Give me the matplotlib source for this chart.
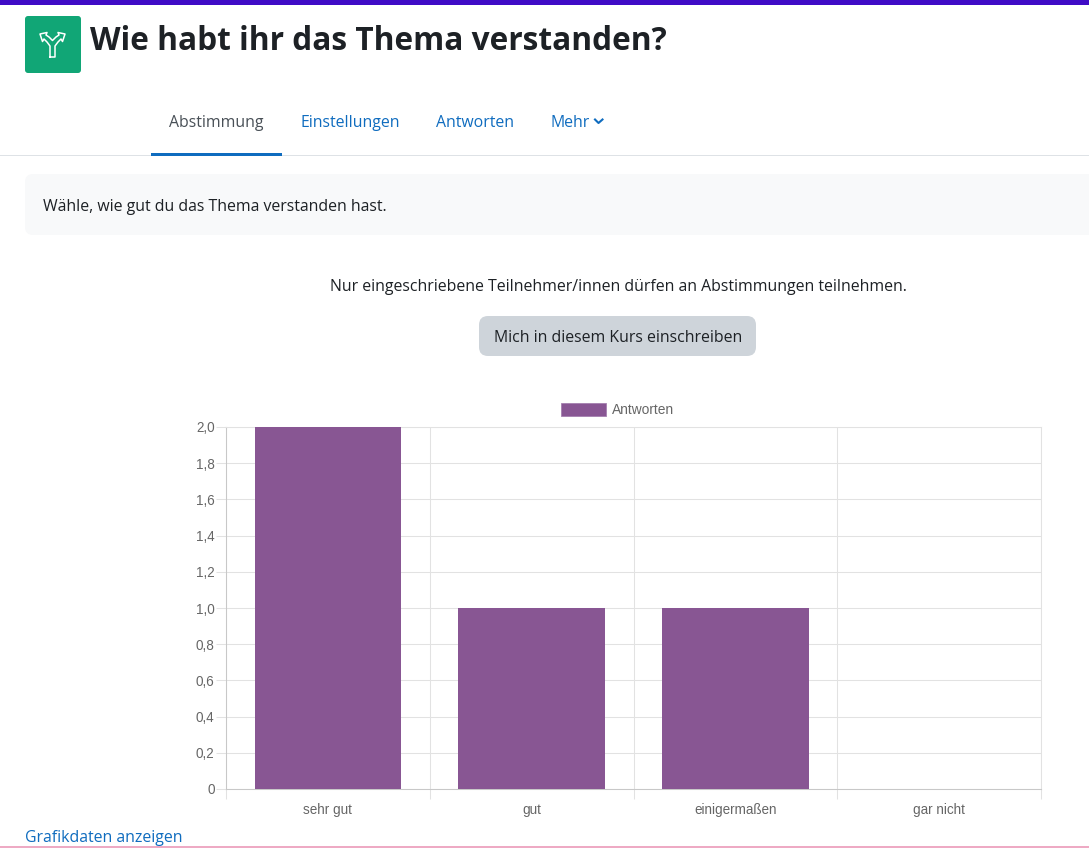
import matplotlib
matplotlib.use("Agg")
import matplotlib.pyplot as plt
from matplotlib.patches import FancyBboxPatch, Rectangle

categories = ["sehr gut", "gut", "einigermaßen", "gar nicht"]
answers = [2, 1, 1, 0]
y_ticks = [0, 0.2, 0.4, 0.6, 0.8, 1.0, 1.2, 1.4, 1.6, 1.8, 2.0]
y_labels = ["0", "0,2", "0,4", "0,6", "0,8", "1,0", "1,2", "1,4", "1,6", "1,8", "2,0"]
tabs = ["Abstimmung", "Einstellungen", "Antworten", "Mehr"]
tab_x = [169, 301, 436, 550]

W, H = 1089, 848
PAGE_FONT = "Open Sans"
CHART_FONT = "Liberation Sans"
BLUE = "#0f6cbf"
BAR = "#885693"
GRID = "#e2e2e2"

fig = plt.figure(figsize=(W / 100, H / 100), dpi=100, facecolor="white")

# page layer in pixel coordinates
page = fig.add_axes([0, 0, 1, 1])
page.set_xlim(0, W)
page.set_ylim(H, 0)
page.axis("off")

page.add_patch(Rectangle((0, 0), W, 5, color="#3f0bc6", lw=0))
page.add_patch(Rectangle((0, 846), W, 2, color="#eeaac4", lw=0))

# activity icon
page.add_patch(FancyBboxPatch((25, 16), 56, 57, boxstyle="round,pad=0,rounding_size=3",
                              fc="#11a676", ec="none"))
page.plot([50, 50, 47, 44, 42.5, 40, 47, 46, 49, 52.5, 56, 59, 58, 65, 62.5, 61, 58, 55, 55, 50],
          [57, 46, 42, 39, 41.5, 34, 32.5, 35, 37, 40.5, 37, 35, 32.5, 34, 41.5, 39, 42, 46, 57, 57],
          color="white", lw=1.1)

page.text(90, 50, "Wie habt ihr das Thema verstanden?", fontsize=22.8, fontweight="bold",
          family=PAGE_FONT, color="#1d2125", va="baseline", ha="left")

# tabs
for name, x in zip(tabs, tab_x):
    c = "#495057" if name == "Abstimmung" else BLUE
    page.text(x, 127, name, fontsize=11.4, family=PAGE_FONT, color=c, va="baseline", ha="left")
page.plot([595, 598.5, 602.5], [119.5, 123, 119.5], color=BLUE, lw=1.5)
page.add_patch(Rectangle((0, 155), W, 1, color="#dee2e6", lw=0))
page.add_patch(Rectangle((151, 153), 131, 3, color=BLUE, lw=0))

# intro box
page.add_patch(FancyBboxPatch((25, 174), W + 20, 61, boxstyle="round,pad=0,rounding_size=8",
                              fc="#f8f9fa", ec="none"))
page.text(43, 211, "Wähle, wie gut du das Thema verstanden hast.", fontsize=11.4,
          family=PAGE_FONT, color="#1d2125", va="baseline", ha="left")

page.text(618, 291, "Nur eingeschriebene Teilnehmer/innen dürfen an Abstimmungen teilnehmen.",
          fontsize=11.4, family=PAGE_FONT, color="#1d2125", va="baseline", ha="center")

# enrol button
page.add_patch(FancyBboxPatch((479, 316), 277, 40, boxstyle="round,pad=0,rounding_size=9",
                              fc="#ced4da", ec="none"))
page.text(618, 342, "Mich in diesem Kurs einschreiben", fontsize=11.4, family=PAGE_FONT,
          color="#1d2125", va="baseline", ha="center")

page.text(25, 842, "Grafikdaten anzeigen", fontsize=11.4, family=PAGE_FONT, color=BLUE,
          va="baseline", ha="left")

# chart
left, right, top, bottom = 226, 1041, 427, 789
ax = fig.add_axes([left / W, 1 - bottom / H, (right - left) / W, (bottom - top) / H])
ax.patch.set_alpha(0)
x = range(len(categories))
ax.bar(x, answers, width=0.72, color=BAR, zorder=3)
ax.set_xlim(-0.5, len(categories) - 0.5)
ax.set_ylim(0, 2)

ax.set_yticks(y_ticks)
ax.set_yticklabels(y_labels)
ax.set_xticks(list(x))
ax.set_xticklabels(categories)
ax.set_xticks([i - 0.5 for i in range(len(categories) + 1)], minor=True)
ax.grid(axis="y", color=GRID, lw=0.75, zorder=0)
ax.grid(axis="x", which="minor", color=GRID, lw=0.75, zorder=0)
ax.grid(axis="x", which="major", visible=False)
ax.tick_params(axis="y", length=7.2, width=0.75, color=GRID, labelsize=9.75, labelcolor="#666666", pad=1)
ax.tick_params(axis="x", which="major", length=0, labelsize=9.75, labelcolor="#666666", pad=10)
ax.tick_params(axis="x", which="minor", length=7.2, width=0.75, color=GRID)
for label in ax.get_xticklabels() + ax.get_yticklabels():
    label.set_fontfamily(CHART_FONT)
for side, sp in ax.spines.items():
    sp.set_color(GRID)
    sp.set_linewidth(0.75)
ax.spines["bottom"].set_color("#c8c8c8")
ax.spines["left"].set_color("#c8c8c8")

# legend
page.add_patch(Rectangle((561, 403), 45, 13, fc=BAR, ec="#a57fb0", lw=0.6))
page.text(612, 414, "Antworten", fontsize=9.9, family=CHART_FONT, color="#666666",
          va="baseline", ha="left")

fig.savefig("out.png", dpi=100)
